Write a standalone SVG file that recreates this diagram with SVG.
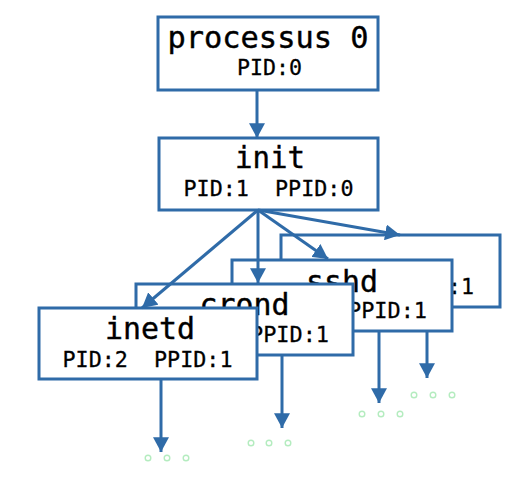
<svg xmlns="http://www.w3.org/2000/svg" width="509" height="490" viewBox="0 0 509 490">
<style>
.box{fill:#ffffff;stroke:#2f6ba8;stroke-width:3}
.name{font-family:"DejaVu Sans Mono","Liberation Mono",monospace;font-size:30px;fill:#000;stroke:#000;stroke-width:0.4;text-anchor:middle}
.sub{font-family:"DejaVu Sans Mono","Liberation Mono",monospace;font-size:22px;fill:#000;stroke:#000;stroke-width:0.3;text-anchor:middle;white-space:pre}
.subr{font-family:"DejaVu Sans Mono","Liberation Mono",monospace;font-size:22px;fill:#000;stroke:#000;stroke-width:0.3;text-anchor:end}
.edge{fill:none;stroke:#2f6ba8;stroke-width:3}
.dot{fill:#ffffff;stroke:#b4ecbf;stroke-width:1.4}
</style>
<defs>
<marker id="arr" markerUnits="userSpaceOnUse" markerWidth="16" markerHeight="16" viewBox="0 0 14 14" refX="13" refY="7" orient="auto">
<path d="M0,0 L13,7 L0,14 Z" fill="#2f6ba8"/>
</marker>
</defs>
<rect width="509" height="490" fill="#ffffff"/>
<g id="node-processus0">
<rect class="box" x="158" y="17" width="220" height="73"/>
<text class="name" x="268" y="48" textLength="201" lengthAdjust="spacingAndGlyphs">processus 0</text>
<text class="sub" x="269.5" y="75" textLength="65" lengthAdjust="spacingAndGlyphs">PID:0</text>
</g>
<g id="node-init">
<rect class="box" x="159" y="138" width="219" height="72"/>
<text class="name" x="270" y="168" textLength="70" lengthAdjust="spacingAndGlyphs">init</text>
<text class="sub" x="268.5" y="196" textLength="170" lengthAdjust="spacingAndGlyphs" xml:space="preserve">PID:1  PPID:0</text>
</g>
<g id="node-4">
<rect class="box" x="281" y="235" width="219" height="72"/>
<text class="subr" x="474" y="294" textLength="26" lengthAdjust="spacingAndGlyphs">:1</text>
</g>
<g id="node-sshd">
<rect class="box" x="232" y="260" width="220" height="71"/>
<text class="name" x="342" y="292" textLength="72" lengthAdjust="spacingAndGlyphs">sshd</text>
<text class="subr" x="427" y="318" textLength="79" lengthAdjust="spacingAndGlyphs">PPID:1</text>
</g>
<g id="node-crond">
<rect class="box" x="136" y="284" width="217" height="71"/>
<text class="name" x="244.5" y="315" textLength="90" lengthAdjust="spacingAndGlyphs">crond</text>
<text class="subr" x="329" y="342" textLength="79" lengthAdjust="spacingAndGlyphs">PPID:1</text>
</g>
<g id="node-inetd">
<rect class="box" x="39" y="308" width="218" height="71"/>
<text class="name" x="150" y="339" textLength="90" lengthAdjust="spacingAndGlyphs">inetd</text>
<text class="sub" x="147.5" y="367" textLength="170" lengthAdjust="spacingAndGlyphs" xml:space="preserve">PID:2  PPID:1</text>
</g>
<g id="connectors">
<line class="edge" x1="257" y1="90" x2="257" y2="138" marker-end="url(#arr)"/>
<line class="edge" x1="258" y1="210" x2="142" y2="308" marker-end="url(#arr)"/>
<line class="edge" x1="258" y1="210" x2="258" y2="283" marker-end="url(#arr)"/>
<line class="edge" x1="258" y1="210" x2="328" y2="259" marker-end="url(#arr)"/>
<line class="edge" x1="258" y1="210" x2="400" y2="235" marker-end="url(#arr)"/>
<line class="edge" x1="161" y1="380" x2="161" y2="452" marker-end="url(#arr)"/>
<line class="edge" x1="282" y1="356" x2="282" y2="428" marker-end="url(#arr)"/>
<line class="edge" x1="379" y1="332" x2="379" y2="403" marker-end="url(#arr)"/>
<line class="edge" x1="427" y1="332" x2="427" y2="378" marker-end="url(#arr)"/>
</g>
<g id="ellipses">
<circle class="dot" cx="148" cy="458" r="2.8"/>
<circle class="dot" cx="167" cy="458" r="2.8"/>
<circle class="dot" cx="186" cy="458" r="2.8"/>
<circle class="dot" cx="251" cy="443" r="2.8"/>
<circle class="dot" cx="269" cy="443" r="2.8"/>
<circle class="dot" cx="288" cy="443" r="2.8"/>
<circle class="dot" cx="362" cy="414" r="2.8"/>
<circle class="dot" cx="381" cy="414" r="2.8"/>
<circle class="dot" cx="400" cy="414" r="2.8"/>
<circle class="dot" cx="414" cy="395" r="2.8"/>
<circle class="dot" cx="433" cy="395" r="2.8"/>
<circle class="dot" cx="452" cy="395" r="2.8"/>
</g>
</svg>
